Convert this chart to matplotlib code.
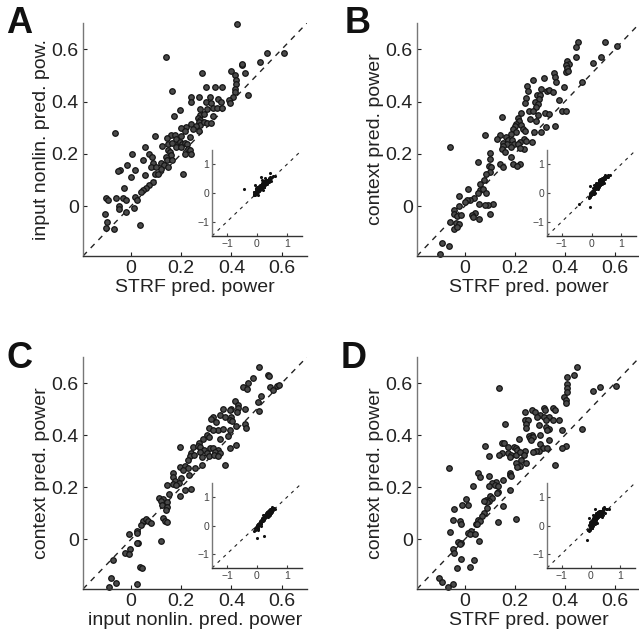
import numpy as np
import matplotlib
matplotlib.use('Agg')
import matplotlib.pyplot as plt

plt.rcParams['font.family'] = ['Liberation Sans', 'DejaVu Sans']
plt.rcParams['axes.unicode_minus'] = True

# panel A: STRF vs input nonlin.
a_x = [0.42, 0.138, 0.543, 0.608, 0.514, 0.44, 0.442, 0.397, 0.454, 0.282, 0.413, 0.417, 0.417,
       0.364, 0.297, 0.335, 0.162, 0.413, 0.413, 0.466, 0.24, 0.272, 0.313, 0.348, 0.407, 0.391,
       0.297, 0.36, 0.317, 0.396, 0.24, 0.301, 0.327, 0.343, 0.362, 0.195, 0.275, 0.273, 0.29,
       0.172, 0.266, 0.327, 0.275, 0.27, 0.275, 0.24, 0.258, 0.29, 0.303, 0.317, -0.064, 0.221,
       0.201, 0.215, 0.248, 0.272, 0.158, 0.175, 0.095, 0.201, 0.142, 0.179, 0.236, 0.147, 0.162,
       0.188, 0.181, 0.195, 0.205, 0.215, 0.224, 0.124, 0.056, 0.201, 0.228, 0.236, 0.146, 0.155,
       0.215, 0.241, 0.158, 0.074, 0.004, 0.05, 0.085, 0.138, 0.142, 0.162, 0.089, 0.121, 0.131,
       0.146, 0.118, 0.082, 0.102, -0.017, -0.044, -0.05, 0.016, 0.095, 0.109, 0.056, 0.208, 0.0,
       0.089, 0.073, 0.062, 0.049, 0.04, -0.026, -0.097, -0.09, -0.06, -0.03, -0.02, 0.016, 0.023,
       -0.046, -0.047, 0.013, -0.02, -0.103, -0.094, -0.1, -0.068, 0.038]
a_y = [0.695, 0.571, 0.586, 0.586, 0.552, 0.54, 0.545, 0.518, 0.51, 0.51, 0.503, 0.482, 0.467,
       0.457, 0.454, 0.454, 0.439, 0.448, 0.435, 0.426, 0.416, 0.416, 0.416, 0.41, 0.416, 0.404,
       0.397, 0.397, 0.393, 0.395, 0.397, 0.372, 0.376, 0.376, 0.376, 0.369, 0.372, 0.349, 0.353,
       0.343, 0.338, 0.346, 0.33, 0.321, 0.312, 0.315, 0.308, 0.32, 0.319, 0.319, 0.279, 0.302,
       0.299, 0.287, 0.296, 0.287, 0.274, 0.273, 0.268, 0.27, 0.26, 0.258, 0.266, 0.239, 0.241,
       0.236, 0.228, 0.245, 0.239, 0.241, 0.236, 0.23, 0.228, 0.226, 0.22, 0.213, 0.216, 0.207,
       0.2, 0.198, 0.194, 0.198, 0.2, 0.175, 0.188, 0.19, 0.175, 0.178, 0.165, 0.165, 0.156,
       0.15, 0.143, 0.15, 0.15, 0.159, 0.137, 0.133, 0.137, 0.124, 0.124, 0.118, 0.122, 0.112,
       0.093, 0.08, 0.071, 0.061, 0.055, 0.07, 0.032, 0.025, 0.033, 0.032, 0.023, 0.036, 0.025,
       0.0, -0.009, -0.005, -0.022, -0.028, -0.06, -0.082, -0.085, -0.072]
a_out_x = [-0.44]
a_out_y = [0.14]

# panel B: STRF vs context
b_x = [0.453, 0.561, 0.607, 0.443, 0.443, 0.545, 0.514, 0.41, 0.417, 0.404, 0.41, 0.404, 0.413,
       0.355, 0.359, 0.318, 0.273, 0.469, 0.364, 0.25, 0.398, 0.305, 0.33, 0.338, 0.254, 0.351,
       0.287, 0.3, 0.297, 0.246, 0.377, 0.279, 0.242, 0.292, 0.286, 0.389, 0.405, 0.257, 0.273,
       0.32, 0.336, 0.224, 0.149, 0.292, 0.26, 0.286, 0.215, 0.218, 0.207, 0.227, 0.203, 0.36,
       0.325, 0.194, 0.233, 0.242, 0.275, 0.303, 0.207, 0.083, 0.142, 0.187, 0.165, 0.128, 0.174,
       0.191, 0.236, 0.246, 0.267, 0.22, 0.152, 0.168, 0.198, 0.214, 0.155, -0.058, 0.186, 0.237,
       0.22, 0.148, 0.161, 0.187, 0.102, 0.102, 0.22, 0.194, 0.211, 0.142, 0.152, 0.096, 0.105,
       0.052, 0.102, 0.087, 0.076, 0.063, 0.013, 0.063, 0.073, 0.085, 0.052, 0.037, 0.02, 0.01,
       -0.022, 0.0, 0.056, 0.115, 0.092, 0.083, -0.021, -0.042, -0.042, -0.029, -0.016, 0.043,
       0.028, 0.033, 0.059, 0.1, -0.058, -0.035, -0.022, -0.042, -0.029, -0.09, -0.064, -0.098]
b_y = [0.629, 0.629, 0.612, 0.607, 0.571, 0.571, 0.549, 0.553, 0.543, 0.539, 0.53, 0.511, 0.518,
       0.508, 0.495, 0.489, 0.482, 0.476, 0.473, 0.461, 0.457, 0.448, 0.442, 0.444, 0.439, 0.435,
       0.425, 0.425, 0.41, 0.412, 0.404, 0.397, 0.395, 0.391, 0.381, 0.365, 0.365, 0.365, 0.365,
       0.358, 0.353, 0.357, 0.34, 0.349, 0.334, 0.327, 0.336, 0.324, 0.315, 0.312, 0.305, 0.306,
       0.302, 0.296, 0.296, 0.287, 0.283, 0.283, 0.283, 0.273, 0.274, 0.277, 0.264, 0.258, 0.254,
       0.254, 0.258, 0.249, 0.245, 0.245, 0.241, 0.239, 0.236, 0.236, 0.232, 0.228, 0.226, 0.22,
       0.222, 0.22, 0.207, 0.19, 0.204, 0.181, 0.162, 0.162, 0.152, 0.16, 0.15, 0.152, 0.15,
       0.169, 0.131, 0.124, 0.102, 0.086, 0.067, 0.063, 0.067, 0.051, 0.051, 0.033, 0.025, 0.023,
       0.038, 0.016, 0.01, 0.008, 0.004, 0.004, 0.0, -0.013, -0.028, -0.038, -0.034, -0.025,
       -0.034, -0.041, -0.047, -0.03, -0.06, -0.063, -0.066, -0.085, -0.079, -0.142, -0.152, -0.184]
b_out_x = [-0.41, -0.04]
b_out_y = [-0.40, -0.49]

# panel C: input nonlin. vs context
c_x = [0.51, 0.547, 0.55, 0.486, 0.466, 0.446, 0.46, 0.552, 0.579, 0.589, 0.566, 0.519, 0.506,
       0.413, 0.427, 0.367, 0.4, 0.427, 0.453, 0.51, 0.393, 0.42, 0.354, 0.373, 0.327, 0.4,
       0.317, 0.393, 0.338, 0.403, 0.453, 0.457, 0.417, 0.393, 0.309, 0.347, 0.367, 0.327, 0.301,
       0.31, 0.387, 0.356, 0.287, 0.272, 0.248, 0.265, 0.274, 0.195, 0.417, 0.393, 0.29, 0.314,
       0.327, 0.347, 0.274, 0.301, 0.334, 0.356, 0.241, 0.234, 0.252, 0.284, 0.311, 0.332, 0.347,
       0.376, 0.228, 0.195, 0.215, 0.228, 0.254, 0.281, 0.208, 0.168, 0.168, 0.23, 0.201, 0.177,
       0.191, 0.168, 0.179, 0.142, 0.215, 0.241, 0.195, 0.152, 0.113, 0.128, 0.12, 0.142, 0.122,
       0.144, 0.138, 0.126, 0.136, 0.142, 0.049, 0.062, 0.069, 0.082, 0.042, 0.023, -0.007, 0.025,
       0.119, 0.029, 0.026, -0.004, -0.024, -0.007, -0.07, 0.038, 0.046, -0.079, -0.06, -0.086,
       0.026]
c_y = [0.66, 0.63, 0.627, 0.619, 0.599, 0.584, 0.577, 0.586, 0.589, 0.591, 0.574, 0.552, 0.527,
       0.53, 0.514, 0.501, 0.501, 0.505, 0.501, 0.492, 0.495, 0.489, 0.476, 0.47, 0.47, 0.47,
       0.461, 0.457, 0.45, 0.454, 0.444, 0.429, 0.434, 0.419, 0.429, 0.421, 0.425, 0.419, 0.4,
       0.393, 0.396, 0.387, 0.387, 0.371, 0.355, 0.358, 0.355, 0.355, 0.362, 0.349, 0.343, 0.349,
       0.349, 0.343, 0.336, 0.332, 0.336, 0.33, 0.332, 0.32, 0.324, 0.317, 0.32, 0.324, 0.32,
       0.286, 0.305, 0.279, 0.282, 0.273, 0.273, 0.286, 0.266, 0.254, 0.241, 0.247, 0.235, 0.226,
       0.216, 0.213, 0.209, 0.209, 0.188, 0.193, 0.165, 0.175, 0.159, 0.155, 0.146, 0.142, 0.133,
       0.124, 0.112, 0.082, 0.072, 0.066, 0.07, 0.079, 0.07, 0.063, 0.057, 0.034, 0.022, 0.025,
       -0.004, -0.013, -0.015, -0.036, -0.051, -0.057, -0.079, -0.104, -0.108, -0.146, -0.168,
       -0.184, -0.171]
c_out_x = [0.0, 0.23]
c_out_y = [-0.44, -0.38]

# panel D: STRF vs context
d_x = [0.45, 0.437, 0.41, 0.41, 0.41, 0.139, 0.541, 0.603, 0.511, 0.41, 0.397, 0.404, 0.406,
       0.351, 0.315, 0.322, 0.27, 0.24, 0.359, 0.279, 0.299, 0.288, 0.318, 0.338, 0.24, 0.253,
       0.377, 0.247, 0.161, 0.351, 0.324, 0.296, 0.325, 0.338, 0.328, 0.247, 0.467, 0.388, 0.216,
       0.148, 0.159, 0.269, 0.255, 0.26, 0.273, 0.266, 0.299, 0.336, 0.404, 0.388, 0.299, 0.311,
       0.328, 0.296, 0.286, 0.273, 0.24, 0.174, 0.197, 0.207, 0.211, 0.083, 0.148, 0.139, 0.174,
       0.187, 0.207, 0.22, 0.236, 0.096, 0.183, 0.362, -0.062, 0.227, 0.244, 0.204, 0.22, 0.211,
       0.181, 0.181, 0.187, 0.152, 0.125, 0.111, 0.096, 0.052, 0.06, 0.034, 0.122, 0.135, 0.096,
       0.183, 0.135, 0.128, 0.102, 0.109, 0.087, 0.096, 0.089, 0.076, 0.004, 0.155, -0.012, 0.014,
       0.089, -0.042, 0.135, 0.207, 0.076, 0.071, 0.054, 0.063, 0.046, 0.05, -0.045, -0.018,
       -0.016, -0.058, 0.024, 0.014, 0.021, 0.043, 0.056, -0.026, -0.016, -0.02, -0.045, -0.042,
       -0.016, 0.037, 0.02, -0.031, -0.101, -0.09, -0.048, -0.066]
d_y = [0.66, 0.632, 0.622, 0.596, 0.581, 0.58, 0.584, 0.59, 0.569, 0.565, 0.546, 0.536, 0.523,
       0.505, 0.505, 0.497, 0.497, 0.489, 0.497, 0.489, 0.476, 0.47, 0.47, 0.47, 0.459, 0.459,
       0.459, 0.444, 0.444, 0.457, 0.457, 0.438, 0.431, 0.425, 0.421, 0.428, 0.425, 0.419, 0.387,
       0.371, 0.371, 0.402, 0.396, 0.391, 0.393, 0.383, 0.4, 0.381, 0.358, 0.349, 0.368, 0.352,
       0.352, 0.34, 0.34, 0.336, 0.34, 0.355, 0.355, 0.349, 0.343, 0.358, 0.332, 0.324, 0.33,
       0.324, 0.324, 0.336, 0.324, 0.32, 0.317, 0.286, 0.273, 0.305, 0.294, 0.292, 0.282, 0.279,
       0.254, 0.247, 0.245, 0.228, 0.222, 0.218, 0.244, 0.254, 0.239, 0.206, 0.209, 0.206, 0.206,
       0.188, 0.184, 0.178, 0.165, 0.159, 0.152, 0.146, 0.142, 0.148, 0.155, 0.127, 0.133, 0.133,
       0.121, 0.117, 0.066, 0.079, 0.102, 0.089, 0.074, 0.07, 0.061, 0.059, 0.074, 0.07, 0.061,
       0.028, 0.032, 0.023, 0.022, 0.022, -0.006, -0.01, -0.015, -0.019, -0.036, -0.053, -0.074,
       -0.079, -0.105, -0.108, -0.146, -0.165, -0.171, -0.184]
d_out_x = [-0.14]
d_out_y = [-0.50]

letters = ['A', 'B', 'C', 'D']
xlabels = ['STRF pred. power', 'STRF pred. power', 'input nonlin. pred. power', 'STRF pred. power']
ylabels = ['input nonlin. pred. pow.', 'context pred. power', 'context pred. power', 'context pred. power']
main_ticks = [0, 0.2, 0.4, 0.6]
main_ticklabels = ['0', '0.2', '0.4', '0.6']
inset_ticks = [-1, 0, 1]

W, H = 639, 641
# axes boxes in pixels: left, top, right, bottom
main_boxes = [(83, 23, 307, 256), (417, 23, 640, 256), (83, 357, 307, 589), (417, 357, 640, 589)]
inset_boxes = [(212, 150, 302, 236), (547, 150, 636, 236), (212, 483, 302, 568), (547, 483, 635, 568)]
letter_pos = [(6, 6), (345, 6), (6, 341), (341, 341)]

lo, hi = -0.19, 0.70
ilo, ihi = -1.5, 1.5


def style(ax, fs, tl, col='#222222'):
    for s in ['top', 'right']:
        ax.spines[s].set_visible(False)
    ax.spines['left'].set_color('#777777')
    ax.spines['bottom'].set_color('#333333')
    ax.spines['left'].set_linewidth(1.0)
    ax.spines['bottom'].set_linewidth(1.0)
    ax.tick_params(direction='in', length=tl, width=0.8, labelsize=fs, colors=col, pad=3)


fig = plt.figure(figsize=(W / 100, H / 100), dpi=100)
data = [(a_x, a_y, a_out_x, a_out_y), (b_x, b_y, b_out_x, b_out_y),
        (c_x, c_y, c_out_x, c_out_y), (d_x, d_y, d_out_x, d_out_y)]

for i, (xs, ys, ox, oy) in enumerate(data):
    l, t, r, b = main_boxes[i]
    ax = fig.add_axes([l / W, 1 - b / H, (r - l) / W, (b - t) / H])
    ax.plot([lo, hi], [lo, hi], color='#222222', ls=(0, (4, 4)), lw=1.0, zorder=1)
    ax.scatter(xs, ys, s=16, facecolor='#4a4a4a', edgecolor='#151515', linewidth=0.9, zorder=2,
               clip_on=False)
    ax.set_xlim(lo, hi)
    ax.set_ylim(lo, hi)
    ax.set_xticks(main_ticks)
    ax.set_xticklabels(main_ticklabels)
    ax.set_yticks(main_ticks)
    ax.set_yticklabels(main_ticklabels)
    style(ax, 14, 3)
    ax.set_xlabel(xlabels[i], fontsize=14, color='#222222', labelpad=1)
    ax.set_ylabel(ylabels[i], fontsize=14, color='#222222', labelpad=1)

    l, t, r, b = inset_boxes[i]
    ins = fig.add_axes([l / W, 1 - b / H, (r - l) / W, (b - t) / H])
    ins.plot([ilo, ihi], [ilo, ihi], color='#222222', ls=(0, (3, 4)), lw=0.8, zorder=1)
    ins.scatter(list(xs) + list(ox), list(ys) + list(oy), s=5, color='#111111', linewidth=0,
                zorder=2)
    ins.set_xlim(ilo, ihi)
    ins.set_ylim(ilo, ihi)
    ins.set_xticks(inset_ticks)
    ins.set_yticks(inset_ticks)
    style(ins, 7.5, 2, col='#444444')
    ins.tick_params(pad=2)

    lx, ly = letter_pos[i]
    fig.text(lx / W, 1 - ly / H, letters[i], fontsize=26, fontweight='bold', va='top', ha='left',
             color='#111111')

fig.savefig('out.png', dpi=100)
